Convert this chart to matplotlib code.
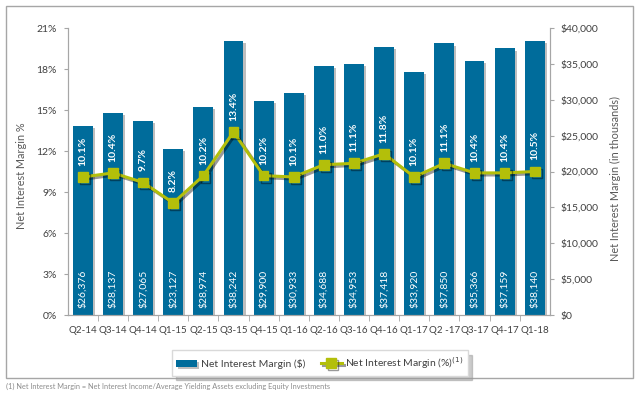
import matplotlib.pyplot as plt
import matplotlib.patheffects as pe
from matplotlib.patches import Rectangle
from matplotlib.ticker import FuncFormatter
import numpy as np

plt.rcParams['font.family'] = ['Lato', 'DejaVu Sans']

quarters = ['Q2-14', 'Q3-14', 'Q4-14', 'Q1-15', 'Q2-15', 'Q3-15', 'Q4-15', 'Q1-16',
            'Q2-16', 'Q3-16', 'Q4-16', 'Q1-17', 'Q2 -17', 'Q3-17', 'Q4-17', 'Q1-18']
nim_dollars = [26376, 28137, 27065, 23127, 28974, 38242, 29900, 30933,
               34688, 34953, 37418, 33920, 37850, 35366, 37159, 38140]
nim_pct = [10.1, 10.4, 9.7, 8.2, 10.2, 13.4, 10.2, 10.1,
           11.0, 11.1, 11.8, 10.1, 11.1, 10.4, 10.4, 10.5]

bar_col = '#006C9B'
line_col = '#B3BF0A'
txt_col = '#404040'
spine_col = '#A6A6A6'

fig = plt.figure(figsize=(6.4, 3.95), dpi=100)
ax = fig.add_axes([0.106, 0.2025, 0.753, 0.7265])
ax2 = ax.twinx()
ax.set_zorder(ax2.get_zorder() + 1)
ax.patch.set_visible(False)

x = np.arange(len(quarters))
shadow = [pe.SimplePatchShadow(offset=(1.5, -1.5), shadow_rgbFace='#7f7f7f', alpha=0.5), pe.Normal()]
bars = ax2.bar(x, nim_dollars, width=0.66, color=bar_col, path_effects=shadow,
               label='Net Interest Margin ($)')
for xi, v in zip(x, nim_dollars):
    ax2.annotate('${:,}'.format(v), (xi, 0), xytext=(0, 5), textcoords='offset points',
                 rotation=90, ha='center', va='bottom', color='white', fontsize=7.5)

line, = ax.plot(x, nim_pct, color=line_col, lw=2.2, marker='s', markersize=7,
                path_effects=[pe.SimpleLineShadow(offset=(1.5, -1.5), alpha=0.4), pe.Normal()],
                label='Net Interest Margin (%)$^{(1)}$')
for xi, v in zip(x, nim_pct):
    ax.annotate('{:.1f}%'.format(v), (xi, v), xytext=(0, 8), textcoords='offset points',
                rotation=90, ha='center', va='bottom', color='white', fontsize=7.5,
                fontweight='bold')

ax.set_xlim(-0.5, len(quarters) - 0.5)
ax.set_ylim(0, 21)
ax.set_yticks(np.arange(0, 22, 3))
ax.yaxis.set_major_formatter(FuncFormatter(lambda v, p: '{:.0f}%'.format(v)))
ax2.set_ylim(0, 40000)
ax2.set_yticks(np.arange(0, 40001, 5000))
ax2.yaxis.set_major_formatter(FuncFormatter(lambda v, p: '${:,.0f}'.format(v)))

ax.set_xticks(x)
ax.set_xticklabels(quarters)
ax.set_xticks(x[:-1] + 0.5, minor=True)
ax.tick_params(axis='x', which='major', length=0, pad=8, labelsize=7, labelcolor=txt_col)
ax.tick_params(axis='x', which='minor', length=4, color=spine_col, direction='out')
ax.tick_params(axis='y', length=3, color=spine_col, labelsize=7.5, labelcolor=txt_col, pad=5)
ax2.tick_params(axis='y', length=3, color=spine_col, labelsize=7.5, labelcolor=txt_col, pad=5)

for a in (ax, ax2):
    a.spines['top'].set_visible(False)
    for s in ('left', 'right', 'bottom'):
        a.spines[s].set_color(spine_col)

ax.set_ylabel('Net Interest Margin %', color='#595959', fontsize=7.8)
ax.yaxis.set_label_coords(-0.085, 0.484)
ax2.set_ylabel('Net Interest Margin (in thousands)', color='#595959', fontsize=7.8)
ax2.yaxis.set_label_coords(1.124, 0.476)

leg = fig.legend(handles=[bars, line], loc='center', bbox_to_anchor=(0.5, 0.081), ncol=2,
                 frameon=True, shadow={'ox': 3, 'oy': -3, 'color': '#999999'}, fancybox=False,
                 fontsize=7.5, handlelength=2.0, handletextpad=0.35, columnspacing=1.5,
                 borderpad=0.45, borderaxespad=0)
leg.get_frame().set_edgecolor('#D9D9D9')
for t in leg.get_texts():
    t.set_color(txt_col)

fig.patches.append(Rectangle((6 / 640, 1 - 378 / 395), 627 / 640, 372 / 395,
                             transform=fig.transFigure, fill=False, edgecolor='#A6A6A6', lw=1))
fig.text(6 / 640, 1 - 386 / 395,
         '(1) Net Interest Margin = Net Interest Income/Average Yielding Assets excluding Equity Investments',
         fontsize=5.3, color='#8C8C8C', va='center', ha='left')

plt.savefig('out.png', dpi=100)
